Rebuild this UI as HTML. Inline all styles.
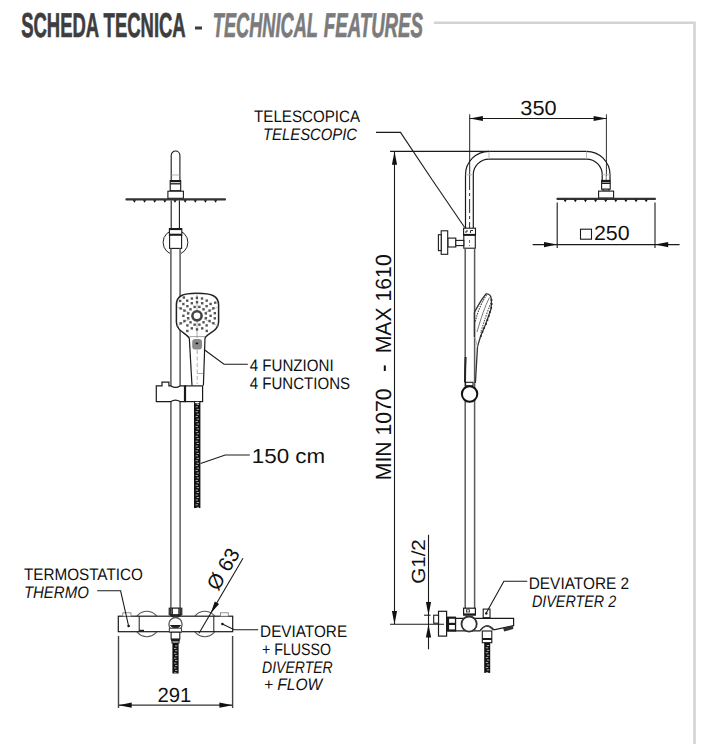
<!DOCTYPE html>
<html><head><meta charset="utf-8"><style>
html,body{margin:0;padding:0;background:#fff;}
svg{display:block;font-family:"Liberation Sans",sans-serif;text-rendering:geometricPrecision;}
</style></head><body>
<svg width="716" height="744" viewBox="0 0 716 744">
<text x="21.2" y="37.0" font-size="34.5"  font-weight="bold" fill="#3d3d3d" textLength="164.5" lengthAdjust="spacingAndGlyphs" stroke="#3d3d3d" stroke-width="0.7">SCHEDA TECNICA</text>
<rect x="195" y="26.5" width="7" height="3" fill="#3d3d3d"/>
<text x="212.8" y="37.0" font-size="34.5" font-style="italic" font-weight="bold" fill="#7b7b7b" textLength="105.2" lengthAdjust="spacingAndGlyphs" stroke="#7b7b7b" stroke-width="0.7">TECHNICAL</text>
<text x="323.8" y="37.0" font-size="34.5" font-style="italic" font-weight="bold" fill="#7b7b7b" textLength="99.2" lengthAdjust="spacingAndGlyphs" stroke="#7b7b7b" stroke-width="0.7">FEATURES</text>
<path d="M434,22.7 H694.5 V744" stroke="#d3d3d3" stroke-width="2.6" fill="none" />
<path d="M171.2,199 V155.4 A4.35,4.35 0 0 1 179.9,155.4 V199" stroke="#1a1a1a" stroke-width="1.1" fill="none" />
<line x1="171.6" y1="175" x2="179.5" y2="175" stroke="#b5b5b5" stroke-width="1" />
<rect x="170.2" y="180.6" width="10.5" height="10.1" stroke="#1a1a1a" stroke-width="1.1" fill="#fff"/>
<line x1="170.2" y1="181.3" x2="180.7" y2="181.3" stroke="#1a1a1a" stroke-width="1.8" />
<line x1="170.2" y1="183.8" x2="180.7" y2="183.8" stroke="#1a1a1a" stroke-width="1.3" />
<rect x="167.9" y="191.2" width="15.5" height="7.1" stroke="#1a1a1a" stroke-width="1.1" fill="#fff"/>
<line x1="126.4" y1="199.4" x2="225" y2="199.4" stroke="#333" stroke-width="2.1" stroke-linecap="round"/>
<path d="M132.80,200.2 L136.00,200.2 L134.40,202.8 Z" fill="#111"/>
<path d="M142.95,200.2 L146.15,200.2 L144.55,202.8 Z" fill="#111"/>
<path d="M153.10,200.2 L156.30,200.2 L154.70,202.8 Z" fill="#111"/>
<path d="M163.25,200.2 L166.45,200.2 L164.85,202.8 Z" fill="#111"/>
<path d="M173.40,200.2 L176.60,200.2 L175.00,202.8 Z" fill="#111"/>
<path d="M183.55,200.2 L186.75,200.2 L185.15,202.8 Z" fill="#111"/>
<path d="M193.70,200.2 L196.90,200.2 L195.30,202.8 Z" fill="#111"/>
<path d="M203.85,200.2 L207.05,200.2 L205.45,202.8 Z" fill="#111"/>
<path d="M214.00,200.2 L217.20,200.2 L215.60,202.8 Z" fill="#111"/>
<line x1="171.2" y1="200.5" x2="171.2" y2="228.4" stroke="#1a1a1a" stroke-width="1.1" />
<line x1="179.4" y1="200.5" x2="179.4" y2="228.4" stroke="#1a1a1a" stroke-width="1.1" />
<circle cx="175.5" cy="242.4" r="12.4" stroke="#222" stroke-width="1" fill="none"/>
<rect x="170" y="248" width="11" height="10" fill="#fff"/>
<rect x="169.4" y="228.6" width="12.4" height="6.6" stroke="#1a1a1a" stroke-width="1.1" fill="#fff"/>
<line x1="169.4" y1="229.2" x2="181.8" y2="229.2" stroke="#1a1a1a" stroke-width="1.8" />
<line x1="169.4" y1="234.6" x2="181.8" y2="234.6" stroke="#1a1a1a" stroke-width="1.8" />
<rect x="169.6" y="235.2" width="12.0" height="13.2" stroke="#1a1a1a" stroke-width="1.1" fill="#fff"/>
<line x1="170.9" y1="248.4" x2="170.9" y2="608.5" stroke="#5a5a5a" stroke-width="1.5" />
<line x1="180.1" y1="248.4" x2="180.1" y2="608.5" stroke="#5a5a5a" stroke-width="1.5" />
<path d="M189.3,338 C186,333 176.4,331 176.4,322 L176.4,305 C176.4,296 182,293.2 197,293.2 C212,293.2 218.6,296 218.6,305 L218.6,322 C218.6,331 208,333 205,338" stroke="#222" stroke-width="1.5" fill="#fff" />
<line x1="197" y1="293.5" x2="197" y2="338" stroke="#999" stroke-width="0.8" />
<line x1="177" y1="307" x2="190" y2="313" stroke="#aaa" stroke-width="0.7" />
<line x1="218" y1="307" x2="204" y2="313" stroke="#aaa" stroke-width="0.7" />
<line x1="177" y1="326" x2="190" y2="319" stroke="#aaa" stroke-width="0.7" />
<line x1="218" y1="326" x2="204" y2="319" stroke="#aaa" stroke-width="0.7" />
<rect x="204.69" y="316.97" width="2.4" height="2.4" fill="#555"/>
<rect x="202.32" y="321.09" width="2.4" height="2.4" fill="#555"/>
<rect x="198.20" y="323.48" width="2.4" height="2.4" fill="#555"/>
<rect x="193.43" y="323.49" width="2.4" height="2.4" fill="#555"/>
<rect x="189.31" y="321.12" width="2.4" height="2.4" fill="#555"/>
<rect x="186.92" y="317.00" width="2.4" height="2.4" fill="#555"/>
<rect x="186.91" y="312.23" width="2.4" height="2.4" fill="#555"/>
<rect x="189.28" y="308.11" width="2.4" height="2.4" fill="#555"/>
<rect x="193.40" y="305.72" width="2.4" height="2.4" fill="#555"/>
<rect x="198.17" y="305.71" width="2.4" height="2.4" fill="#555"/>
<rect x="202.29" y="308.08" width="2.4" height="2.4" fill="#555"/>
<rect x="204.68" y="312.20" width="2.4" height="2.4" fill="#555"/>
<rect x="209.40" y="314.60" width="2.4" height="2.4" fill="#555"/>
<rect x="208.36" y="319.80" width="2.4" height="2.4" fill="#555"/>
<rect x="205.42" y="324.22" width="2.4" height="2.4" fill="#555"/>
<rect x="201.00" y="327.16" width="2.4" height="2.4" fill="#555"/>
<rect x="195.80" y="328.20" width="2.4" height="2.4" fill="#555"/>
<rect x="190.60" y="327.16" width="2.4" height="2.4" fill="#555"/>
<rect x="186.18" y="324.22" width="2.4" height="2.4" fill="#555"/>
<rect x="183.24" y="319.80" width="2.4" height="2.4" fill="#555"/>
<rect x="182.20" y="314.60" width="2.4" height="2.4" fill="#555"/>
<rect x="183.24" y="309.40" width="2.4" height="2.4" fill="#555"/>
<rect x="186.18" y="304.98" width="2.4" height="2.4" fill="#555"/>
<rect x="190.60" y="302.04" width="2.4" height="2.4" fill="#555"/>
<rect x="195.80" y="301.00" width="2.4" height="2.4" fill="#555"/>
<rect x="201.00" y="302.04" width="2.4" height="2.4" fill="#555"/>
<rect x="205.42" y="304.98" width="2.4" height="2.4" fill="#555"/>
<rect x="208.36" y="309.40" width="2.4" height="2.4" fill="#555"/>
<rect x="213.62" y="317.11" width="2.4" height="2.4" fill="#555"/>
<rect x="212.19" y="322.03" width="2.4" height="2.4" fill="#555"/>
<rect x="205.57" y="329.72" width="2.4" height="2.4" fill="#555"/>
<rect x="186.11" y="329.77" width="2.4" height="2.4" fill="#555"/>
<rect x="179.45" y="322.12" width="2.4" height="2.4" fill="#555"/>
<rect x="179.41" y="307.17" width="2.4" height="2.4" fill="#555"/>
<rect x="182.16" y="302.85" width="2.4" height="2.4" fill="#555"/>
<rect x="186.03" y="299.48" width="2.4" height="2.4" fill="#555"/>
<rect x="190.68" y="297.34" width="2.4" height="2.4" fill="#555"/>
<rect x="195.75" y="296.60" width="2.4" height="2.4" fill="#555"/>
<rect x="200.82" y="297.31" width="2.4" height="2.4" fill="#555"/>
<rect x="205.49" y="299.43" width="2.4" height="2.4" fill="#555"/>
<rect x="209.37" y="302.77" width="2.4" height="2.4" fill="#555"/>
<rect x="212.15" y="307.08" width="2.4" height="2.4" fill="#555"/>
<rect x="213.61" y="311.99" width="2.4" height="2.4" fill="#555"/>
<rect x="178.93" y="299.71" width="2.4" height="2.4" fill="#555"/>
<rect x="182.67" y="296.33" width="2.4" height="2.4" fill="#555"/>
<rect x="214.07" y="301.47" width="2.4" height="2.4" fill="#555"/>
<circle cx="197" cy="315.8" r="4.6" stroke="#444" stroke-width="2.6" fill="#fff"/>
<path d="M189.3,338 L192,385.5" stroke="#1a1a1a" stroke-width="1.2" fill="none" />
<path d="M205,338 L203.4,385.5" stroke="#1a1a1a" stroke-width="1.2" fill="none" />
<rect x="192.2" y="339.1" width="9.8" height="10.4" rx="3" fill="#8a8a8a"/>
<rect x="195.6" y="342.6" width="2.6" height="1.6" fill="#111"/>
<line x1="189.5" y1="336.6" x2="205" y2="336.6" stroke="#999" stroke-width="0.9" />
<line x1="197.2" y1="350" x2="197.2" y2="384" stroke="#999" stroke-width="0.8" stroke-dasharray="4,2.5"/>
<line x1="197.2" y1="373.5" x2="203" y2="373.5" stroke="#999" stroke-width="0.8" />
<path d="M204,349.5 L224,364.2 H247.8" stroke="#1a1a1a" stroke-width="1.1" fill="none" />
<path d="M156.3,385.9 H162 V382.2 H168.9 V385.9 H170.9 Q175.5,389 180.1,385.9 H185.2 V401.6 H180.1 Q175.5,398.5 170.9,401.6 H156.3 Z" stroke="#1a1a1a" stroke-width="1.2" fill="#fff" />
<rect x="185.2" y="385.9" width="17.4" height="15.7" stroke="#1a1a1a" stroke-width="1.2" fill="#fff"/>
<line x1="185" y1="385.9" x2="185" y2="401.6" stroke="#1a1a1a" stroke-width="2.2" />
<rect x="194" y="401.5" width="6.4" height="106.5" fill="#111"/>
<rect x="196.6" y="404.00" width="2.4" height="0.8" fill="#d0d0d0"/>
<rect x="195.6" y="406.45" width="2.4" height="0.8" fill="#d0d0d0"/>
<rect x="196.6" y="408.90" width="2.4" height="0.8" fill="#d0d0d0"/>
<rect x="195.6" y="411.35" width="2.4" height="0.8" fill="#d0d0d0"/>
<rect x="196.6" y="413.80" width="2.4" height="0.8" fill="#d0d0d0"/>
<rect x="195.6" y="416.25" width="2.4" height="0.8" fill="#d0d0d0"/>
<rect x="196.6" y="418.70" width="2.4" height="0.8" fill="#d0d0d0"/>
<rect x="195.6" y="421.15" width="2.4" height="0.8" fill="#d0d0d0"/>
<rect x="196.6" y="423.60" width="2.4" height="0.8" fill="#d0d0d0"/>
<rect x="195.6" y="426.05" width="2.4" height="0.8" fill="#d0d0d0"/>
<rect x="196.6" y="428.50" width="2.4" height="0.8" fill="#d0d0d0"/>
<rect x="195.6" y="430.95" width="2.4" height="0.8" fill="#d0d0d0"/>
<rect x="196.6" y="433.40" width="2.4" height="0.8" fill="#d0d0d0"/>
<rect x="195.6" y="435.85" width="2.4" height="0.8" fill="#d0d0d0"/>
<rect x="196.6" y="438.30" width="2.4" height="0.8" fill="#d0d0d0"/>
<rect x="195.6" y="440.75" width="2.4" height="0.8" fill="#d0d0d0"/>
<rect x="196.6" y="443.20" width="2.4" height="0.8" fill="#d0d0d0"/>
<rect x="195.6" y="445.65" width="2.4" height="0.8" fill="#d0d0d0"/>
<rect x="196.6" y="448.10" width="2.4" height="0.8" fill="#d0d0d0"/>
<rect x="195.6" y="450.55" width="2.4" height="0.8" fill="#d0d0d0"/>
<rect x="196.6" y="453.00" width="2.4" height="0.8" fill="#d0d0d0"/>
<rect x="195.6" y="455.45" width="2.4" height="0.8" fill="#d0d0d0"/>
<rect x="196.6" y="457.90" width="2.4" height="0.8" fill="#d0d0d0"/>
<rect x="195.6" y="460.35" width="2.4" height="0.8" fill="#d0d0d0"/>
<rect x="196.6" y="462.80" width="2.4" height="0.8" fill="#d0d0d0"/>
<rect x="195.6" y="465.25" width="2.4" height="0.8" fill="#d0d0d0"/>
<rect x="196.6" y="467.70" width="2.4" height="0.8" fill="#d0d0d0"/>
<rect x="195.6" y="470.15" width="2.4" height="0.8" fill="#d0d0d0"/>
<rect x="196.6" y="472.60" width="2.4" height="0.8" fill="#d0d0d0"/>
<rect x="195.6" y="475.05" width="2.4" height="0.8" fill="#d0d0d0"/>
<rect x="196.6" y="477.50" width="2.4" height="0.8" fill="#d0d0d0"/>
<rect x="195.6" y="479.95" width="2.4" height="0.8" fill="#d0d0d0"/>
<rect x="196.6" y="482.40" width="2.4" height="0.8" fill="#d0d0d0"/>
<rect x="195.6" y="484.85" width="2.4" height="0.8" fill="#d0d0d0"/>
<rect x="196.6" y="487.30" width="2.4" height="0.8" fill="#d0d0d0"/>
<rect x="195.6" y="489.75" width="2.4" height="0.8" fill="#d0d0d0"/>
<rect x="196.6" y="492.20" width="2.4" height="0.8" fill="#d0d0d0"/>
<rect x="195.6" y="494.65" width="2.4" height="0.8" fill="#d0d0d0"/>
<rect x="196.6" y="497.10" width="2.4" height="0.8" fill="#d0d0d0"/>
<rect x="195.6" y="499.55" width="2.4" height="0.8" fill="#d0d0d0"/>
<rect x="196.6" y="502.00" width="2.4" height="0.8" fill="#d0d0d0"/>
<rect x="195.6" y="504.45" width="2.4" height="0.8" fill="#d0d0d0"/>
<rect x="196.6" y="506.90" width="2.4" height="0.8" fill="#d0d0d0"/>
<ellipse cx="197.2" cy="402.6" rx="2.4" ry="0.9" fill="#fff"/>
<path d="M200.6,463.6 L225.2,455 H249.8" stroke="#1a1a1a" stroke-width="1.1" fill="none" />
<circle cx="146.8" cy="624" r="12.7" stroke="#555" stroke-width="1.1" fill="none"/>
<circle cx="204.8" cy="624" r="12.7" stroke="#555" stroke-width="1.1" fill="none"/>
<rect x="118.3" y="616.2" width="114.4" height="15.5" stroke="#1a1a1a" stroke-width="1.2" fill="#fff"/>
<line x1="139.2" y1="616.2" x2="139.2" y2="631.7" stroke="#1a1a1a" stroke-width="1" />
<line x1="213.8" y1="616.2" x2="213.8" y2="631.7" stroke="#1a1a1a" stroke-width="1" />
<line x1="139.2" y1="630.6" x2="144" y2="630.6" stroke="#1a1a1a" stroke-width="1.6" />
<rect x="122.8" y="612.8" width="8.2" height="3.4" stroke="#777" stroke-width="0.8" fill="#fff"/>
<rect x="220.5" y="612.8" width="7.8" height="3.4" stroke="#777" stroke-width="0.8" fill="#fff"/>
<rect x="169.2" y="608.2" width="12.6" height="6.6" stroke="#1a1a1a" stroke-width="1.1" fill="#fff"/>
<rect x="169.2" y="608.2" width="2.6" height="6.6" fill="#333"/>
<rect x="179.2" y="608.2" width="2.6" height="6.6" fill="#333"/>
<rect x="172.4" y="608.2" width="6.4" height="6.6" stroke="#1a1a1a" stroke-width="0.9" fill="#fff"/>
<path d="M170,615 L175.5,618.6 L181,615 Z" stroke="#1a1a1a" stroke-width="1" fill="#333" />
<circle cx="175.5" cy="624.2" r="6.6" stroke="#555" stroke-width="1.3" fill="#fff"/>
<path d="M170.5,625.5 Q175.5,630.5 180.5,625.5 Z" stroke="#1a1a1a" stroke-width="1" fill="#222" />
<rect x="169.4" y="628.2" width="12.1" height="4.0" stroke="#444" stroke-width="1.1" fill="#fff"/>
<rect x="171.1" y="632.2" width="8.7" height="6.8" stroke="#1a1a1a" stroke-width="1.1" fill="#fff"/>
<line x1="171.1" y1="640" x2="179.8" y2="640" stroke="#1a1a1a" stroke-width="2" />
<rect x="172" y="641" width="7" height="2" stroke="#1a1a1a" stroke-width="1" fill="#fff"/>
<rect x="172.4" y="643" width="6.2" height="30.5" fill="#111"/>
<rect x="175.0" y="645.50" width="2.4" height="0.8" fill="#d0d0d0"/>
<rect x="174.0" y="647.95" width="2.4" height="0.8" fill="#d0d0d0"/>
<rect x="175.0" y="650.40" width="2.4" height="0.8" fill="#d0d0d0"/>
<rect x="174.0" y="652.85" width="2.4" height="0.8" fill="#d0d0d0"/>
<rect x="175.0" y="655.30" width="2.4" height="0.8" fill="#d0d0d0"/>
<rect x="174.0" y="657.75" width="2.4" height="0.8" fill="#d0d0d0"/>
<rect x="175.0" y="660.20" width="2.4" height="0.8" fill="#d0d0d0"/>
<rect x="174.0" y="662.65" width="2.4" height="0.8" fill="#d0d0d0"/>
<rect x="175.0" y="665.10" width="2.4" height="0.8" fill="#d0d0d0"/>
<rect x="174.0" y="667.55" width="2.4" height="0.8" fill="#d0d0d0"/>
<rect x="175.0" y="670.00" width="2.4" height="0.8" fill="#d0d0d0"/>
<rect x="174.0" y="672.45" width="2.4" height="0.8" fill="#d0d0d0"/>
<circle cx="128.6" cy="626" r="1.3" fill="#111"/>
<path d="M97.2,590.8 H120.6 L128.6,626" stroke="#1a1a1a" stroke-width="1.1" fill="none" />
<circle cx="222.4" cy="624" r="1.3" fill="#111"/>
<path d="M222.4,624 L234.2,629.7 H258.2" stroke="#1a1a1a" stroke-width="1.1" fill="none" />
<path d="M199,633.2 L243,558.3" stroke="#1a1a1a" stroke-width="1.1" fill="none" />
<polygon points="210.60,613.60 214.78,601.56 219.09,604.09" fill="#111"/>
<line x1="118.5" y1="636" x2="118.5" y2="708" stroke="#444" stroke-width="1.4" />
<line x1="232.6" y1="636" x2="232.6" y2="708" stroke="#444" stroke-width="1.4" />
<line x1="118.5" y1="705.2" x2="232.6" y2="705.2" stroke="#333" stroke-width="1.3" />
<polygon points="118.50,705.20 131.70,702.60 131.70,707.80" fill="#111"/>
<polygon points="232.60,705.20 219.40,707.80 219.40,702.60" fill="#111"/>
<text x="249.7" y="371.3" font-size="16.6"   fill="#111" textLength="84.0" lengthAdjust="spacingAndGlyphs" >4 FUNZIONI</text>
<text x="249.7" y="388.8" font-size="16.6"   fill="#111" textLength="100.4" lengthAdjust="spacingAndGlyphs" >4 FUNCTIONS</text>
<text x="251.8" y="462.6" font-size="20.5"   fill="#111" textLength="73.4" lengthAdjust="spacingAndGlyphs" >150 cm</text>
<text x="23.9" y="579.6" font-size="16.6"   fill="#111" textLength="119.0" lengthAdjust="spacingAndGlyphs" >TERMOSTATICO</text>
<text x="23.9" y="597.5" font-size="16.6" font-style="italic"  fill="#111" textLength="64.9" lengthAdjust="spacingAndGlyphs" >THERMO</text>
<text x="260.1" y="637.0" font-size="16.6"   fill="#111" textLength="87.0" lengthAdjust="spacingAndGlyphs" >DEVIATORE</text>
<text x="262.0" y="654.6" font-size="16.6"   fill="#111" textLength="69.1" lengthAdjust="spacingAndGlyphs" >+ FLUSSO</text>
<text x="262.0" y="673.2" font-size="16.6" font-style="italic"  fill="#111" textLength="70.7" lengthAdjust="spacingAndGlyphs" >DIVERTER</text>
<text x="263.9" y="689.8" font-size="16.6" font-style="italic"  fill="#111" textLength="58.4" lengthAdjust="spacingAndGlyphs" >+ FLOW</text>
<text x="157.4" y="701.9" font-size="20.5"   fill="#111" textLength="33.9" lengthAdjust="spacingAndGlyphs" >291</text>
<g transform="translate(228.6,573.6) rotate(-59.9)"><text x="-21" y="0" font-size="20.5" fill="#111">Ø 63</text></g>
<line x1="469.7" y1="114.3" x2="469.7" y2="176" stroke="#222" stroke-width="1" />
<line x1="469.6" y1="176" x2="469.6" y2="228" stroke="#333" stroke-width="1" stroke-dasharray="14,3,3,3"/>
<line x1="606.4" y1="114.3" x2="606.4" y2="176" stroke="#333" stroke-width="1" />
<line x1="606.2" y1="176" x2="606.2" y2="198" stroke="#666" stroke-width="0.9" stroke-dasharray="5,2"/>
<line x1="469.7" y1="118.5" x2="606.8" y2="118.5" stroke="#1a1a1a" stroke-width="1.1" />
<polygon points="469.70,118.50 482.90,115.90 482.90,121.10" fill="#111"/>
<polygon points="606.80,118.50 593.60,121.10 593.60,115.90" fill="#111"/>
<text x="520.3" y="114.6" font-size="20.5"   fill="#111" textLength="36.3" lengthAdjust="spacingAndGlyphs" >350</text>
<path d="M465.5,228 V174.8 A23.5,23.5 0 0 1 489,151.3 H586.5 A23.5,23.5 0 0 1 610,174.8 V180.2" stroke="#1a1a1a" stroke-width="1.2" fill="none" />
<path d="M473.3,228 V174.8 A15.7,15.7 0 0 1 489,159.1 H586.5 A15.7,15.7 0 0 1 602.2,174.8 V180.2" stroke="#1a1a1a" stroke-width="1.2" fill="none" />
<line x1="489" y1="151.5" x2="489" y2="159" stroke="#bbb" stroke-width="1" />
<line x1="586.5" y1="151.5" x2="586.5" y2="159" stroke="#bbb" stroke-width="1" />
<line x1="465.6" y1="174.8" x2="473.2" y2="174.8" stroke="#bbb" stroke-width="1" />
<line x1="602.3" y1="174.8" x2="609.9" y2="174.8" stroke="#bbb" stroke-width="1" />
<line x1="390.1" y1="151.4" x2="489" y2="151.4" stroke="#1a1a1a" stroke-width="1.1" />
<rect x="601.6" y="180.4" width="8.6" height="8.8" stroke="#1a1a1a" stroke-width="1.1" fill="#fff"/>
<line x1="601.6" y1="181.4" x2="610.2" y2="181.4" stroke="#1a1a1a" stroke-width="1.8" />
<line x1="601.6" y1="183.4" x2="610.2" y2="183.4" stroke="#1a1a1a" stroke-width="1.2" />
<rect x="603" y="189.2" width="6" height="1.8" stroke="#1a1a1a" stroke-width="0.9" fill="#fff"/>
<rect x="598.6" y="191.1" width="15.0" height="7.0" stroke="#1a1a1a" stroke-width="1.1" fill="#fff"/>
<line x1="557.4" y1="198.9" x2="655" y2="198.9" stroke="#333" stroke-width="2.1" stroke-linecap="round"/>
<path d="M563.60,199.7 L566.80,199.7 L565.20,202.3 Z" fill="#111"/>
<path d="M573.72,199.7 L576.92,199.7 L575.32,202.3 Z" fill="#111"/>
<path d="M583.84,199.7 L587.04,199.7 L585.44,202.3 Z" fill="#111"/>
<path d="M593.96,199.7 L597.16,199.7 L595.56,202.3 Z" fill="#111"/>
<path d="M604.08,199.7 L607.28,199.7 L605.68,202.3 Z" fill="#111"/>
<path d="M614.20,199.7 L617.40,199.7 L615.80,202.3 Z" fill="#111"/>
<path d="M624.32,199.7 L627.52,199.7 L625.92,202.3 Z" fill="#111"/>
<path d="M634.44,199.7 L637.64,199.7 L636.04,202.3 Z" fill="#111"/>
<path d="M644.56,199.7 L647.76,199.7 L646.16,202.3 Z" fill="#111"/>
<line x1="557.2" y1="202.6" x2="557.2" y2="248" stroke="#1a1a1a" stroke-width="1.1" />
<line x1="655" y1="202.6" x2="655" y2="248" stroke="#1a1a1a" stroke-width="1.1" />
<line x1="532.6" y1="244.6" x2="679.6" y2="244.6" stroke="#1a1a1a" stroke-width="1.1" />
<polygon points="557.20,244.60 544.00,247.20 544.00,242.00" fill="#111"/>
<polygon points="655.00,244.60 668.20,242.00 668.20,247.20" fill="#111"/>
<rect x="580.5" y="229.2" width="11.0" height="10.0" stroke="#1a1a1a" stroke-width="1.1" fill="none"/>
<text x="593.9" y="240.3" font-size="20.5"   fill="#111" textLength="35.7" lengthAdjust="spacingAndGlyphs" >250</text>
<line x1="432.3" y1="180" x2="464.7" y2="227.5" stroke="#1a1a1a" stroke-width="1.1" />
<path d="M376,132.4 H400.5 L432.3,180" stroke="#1a1a1a" stroke-width="1.1" fill="none" />
<rect x="463.6" y="228.2" width="11.9" height="7.1" stroke="#1a1a1a" stroke-width="1.1" fill="#fff"/>
<line x1="463.6" y1="234.8" x2="475.5" y2="234.8" stroke="#1a1a1a" stroke-width="1.8" />
<path d="M466,233 V231 H468 M470.5,233 V230.5 H473" stroke="#1a1a1a" stroke-width="0.9" fill="none" />
<rect x="463.8" y="235.3" width="11.5" height="12.9" stroke="#1a1a1a" stroke-width="1.1" fill="#fff"/>
<line x1="469.5" y1="240" x2="469.5" y2="246" stroke="#777" stroke-width="1" stroke-dasharray="3,2"/>
<rect x="447.9" y="238.1" width="7.9" height="8.9" stroke="#1a1a1a" stroke-width="1.1" fill="#fff"/>
<rect x="455.8" y="240.4" width="8.0" height="5.2" stroke="#1a1a1a" stroke-width="1.1" fill="#fff"/>
<rect x="441.2" y="230.8" width="6.5" height="23.5" stroke="#1a1a1a" stroke-width="1.1" fill="#fff"/>
<rect x="438.4" y="234.7" width="2.8" height="15.9" stroke="#1a1a1a" stroke-width="1.1" fill="#fff"/>
<line x1="465.2" y1="248.2" x2="465.2" y2="608.5" stroke="#5a5a5a" stroke-width="1.5" />
<line x1="474.6" y1="248.2" x2="474.6" y2="608.5" stroke="#5a5a5a" stroke-width="1.5" />
<path d="M474.4,337 L474.4,312.3 C478,306 482,298 486.3,293.8 C488.5,293.6 490.5,295.5 491,297.2 C491.6,301 491.5,305 491.2,308.3 C489.5,314 487.5,319 485.5,324.4 L480.5,336.5 L477.5,346.6 L475.4,383" stroke="#333" stroke-width="1.3" fill="none" />
<path d="M486.5,295 C482,302 478,310 475.2,322" stroke="#444" stroke-width="1.1" fill="none" stroke-dasharray="1.5,1"/>
<path d="M489.5,297.5 C485,306 481,318 477,332" stroke="#777" stroke-width="1.0" fill="none" />
<path d="M491,303 C487,312 484,322 480.5,333" stroke="#555" stroke-width="1.1" fill="none" stroke-dasharray="1.5,1.1"/>
<circle cx="491.6" cy="300" r="0.95" fill="#222"/>
<circle cx="491.8" cy="304" r="0.95" fill="#222"/>
<circle cx="491.2" cy="308" r="0.95" fill="#222"/>
<circle cx="490" cy="312" r="0.95" fill="#222"/>
<circle cx="488.8" cy="316" r="0.95" fill="#222"/>
<circle cx="487.5" cy="320" r="0.95" fill="#222"/>
<circle cx="486" cy="324" r="0.95" fill="#222"/>
<circle cx="484.2" cy="328" r="0.95" fill="#222"/>
<circle cx="482.5" cy="332" r="0.95" fill="#222"/>
<circle cx="481" cy="336" r="0.95" fill="#222"/>
<path d="M474.4,337 C476,340 476.5,343 477.5,346.6" stroke="#999" stroke-width="0.8" fill="none" />
<path d="M465.6,357 Q465,370 465,382.5" stroke="#222" stroke-width="2" fill="none" />
<rect x="465.6" y="382.3" width="7.4" height="3.5" stroke="#1a1a1a" stroke-width="1.1" fill="#fff"/>
<circle cx="469.6" cy="394" r="7.7" stroke="#111" stroke-width="2" fill="#fff"/>
<rect x="463.6" y="608.2" width="11.8" height="6.8" stroke="#1a1a1a" stroke-width="1.2" fill="#fff"/>
<line x1="463.6" y1="614.4" x2="475.4" y2="614.4" stroke="#1a1a1a" stroke-width="2" />
<rect x="466.5" y="609.8" width="3.0" height="2.2" stroke="#1a1a1a" stroke-width="0.8" fill="#fff"/>
<path d="M455.5,618.4 H513.6 V625.6 L494,629.8 Q486.5,621.5 480,630.9 H455.5 Z" stroke="#1a1a1a" stroke-width="1.2" fill="#fff" />
<circle cx="469.1" cy="624.1" r="7.6" stroke="#333" stroke-width="1.8" fill="#fff"/>
<polygon points="503,627.9 513.2,625.7 513.2,629 504.2,631.6" fill="#333"/>
<rect x="447.4" y="617.3" width="8.1" height="13.7" stroke="#1a1a1a" stroke-width="1.2" fill="#fff"/>
<line x1="447.4" y1="617.8" x2="455.5" y2="617.8" stroke="#1a1a1a" stroke-width="2" />
<line x1="447.4" y1="623.9" x2="455.5" y2="623.9" stroke="#1a1a1a" stroke-width="2.2" />
<line x1="447.4" y1="630.4" x2="455.5" y2="630.4" stroke="#1a1a1a" stroke-width="2" />
<line x1="448.2" y1="617.3" x2="448.2" y2="631" stroke="#1a1a1a" stroke-width="1.8" />
<rect x="438.5" y="611.3" width="8.1" height="24.8" stroke="#1a1a1a" stroke-width="1.2" fill="#fff"/>
<rect x="433.7" y="615.2" width="4.8" height="8.0" stroke="#1a1a1a" stroke-width="1.1" fill="#fff"/>
<rect x="483.2" y="609.1" width="6.8" height="9.3" stroke="#1a1a1a" stroke-width="1.1" fill="#fff"/>
<line x1="483.2" y1="617.9" x2="490" y2="617.9" stroke="#1a1a1a" stroke-width="1.6" />
<circle cx="486.3" cy="613.4" r="1.2" fill="#111"/>
<path d="M486.1,613.2 L503.9,581.2 H527.3" stroke="#1a1a1a" stroke-width="1.1" fill="none" />
<path d="M480,630.9 Q486.5,621.5 493.2,630.2" stroke="#444" stroke-width="1.3" fill="none" />
<rect x="482.3" y="631" width="9.5" height="11.7" stroke="#1a1a1a" stroke-width="1.1" fill="#fff"/>
<line x1="482.3" y1="639" x2="491.8" y2="639" stroke="#1a1a1a" stroke-width="2" />
<rect x="484.2" y="642.7" width="6" height="30.2" fill="#111"/>
<rect x="486.8" y="645.00" width="2.4" height="0.8" fill="#d0d0d0"/>
<rect x="485.8" y="647.45" width="2.4" height="0.8" fill="#d0d0d0"/>
<rect x="486.8" y="649.90" width="2.4" height="0.8" fill="#d0d0d0"/>
<rect x="485.8" y="652.35" width="2.4" height="0.8" fill="#d0d0d0"/>
<rect x="486.8" y="654.80" width="2.4" height="0.8" fill="#d0d0d0"/>
<rect x="485.8" y="657.25" width="2.4" height="0.8" fill="#d0d0d0"/>
<rect x="486.8" y="659.70" width="2.4" height="0.8" fill="#d0d0d0"/>
<rect x="485.8" y="662.15" width="2.4" height="0.8" fill="#d0d0d0"/>
<rect x="486.8" y="664.60" width="2.4" height="0.8" fill="#d0d0d0"/>
<rect x="485.8" y="667.05" width="2.4" height="0.8" fill="#d0d0d0"/>
<rect x="486.8" y="669.50" width="2.4" height="0.8" fill="#d0d0d0"/>
<rect x="485.8" y="671.95" width="2.4" height="0.8" fill="#d0d0d0"/>
<line x1="394.5" y1="151.5" x2="394.5" y2="624.3" stroke="#1a1a1a" stroke-width="1.1" />
<polygon points="394.50,151.50 397.10,164.70 391.90,164.70" fill="#111"/>
<polygon points="394.50,624.30 391.90,611.10 397.10,611.10" fill="#111"/>
<line x1="390.1" y1="624.3" x2="444" y2="624.3" stroke="#1a1a1a" stroke-width="1.1" />
<line x1="424.1" y1="615.2" x2="430.5" y2="615.2" stroke="#1a1a1a" stroke-width="1.1" />
<line x1="428.5" y1="534.8" x2="428.5" y2="649.3" stroke="#1a1a1a" stroke-width="1.1" />
<polygon points="428.50,615.20 425.90,602.00 431.10,602.00" fill="#111"/>
<polygon points="428.50,624.30 431.10,637.50 425.90,637.50" fill="#111"/>
<g transform="translate(390.8,478.8) rotate(-90)"><text x="-1.4" y="0" font-size="22" fill="#111" textLength="91.8" lengthAdjust="spacingAndGlyphs">MIN 1070</text><text x="125.5" y="0" font-size="22" fill="#111" textLength="99" lengthAdjust="spacingAndGlyphs">MAX 1610</text></g>
<rect x="383.8" y="365.4" width="2" height="5.6" fill="#111"/>
<g transform="translate(424.8,583.8) rotate(-90)"><text x="0" y="0" font-size="19" fill="#111" textLength="44.6" lengthAdjust="spacingAndGlyphs">G1/2</text></g>
<text x="254.1" y="122.3" font-size="16.6"   fill="#111" textLength="106.0" lengthAdjust="spacingAndGlyphs" >TELESCOPICA</text>
<text x="263.0" y="140.2" font-size="16.6" font-style="italic"  fill="#111" textLength="94.1" lengthAdjust="spacingAndGlyphs" >TELESCOPIC</text>
<text x="528.7" y="589.1" font-size="16.6"   fill="#111" textLength="100.5" lengthAdjust="spacingAndGlyphs" >DEVIATORE 2</text>
<text x="531.9" y="606.7" font-size="16.6" font-style="italic"  fill="#111" textLength="84.3" lengthAdjust="spacingAndGlyphs" >DIVERTER 2</text>
</svg></body></html>
